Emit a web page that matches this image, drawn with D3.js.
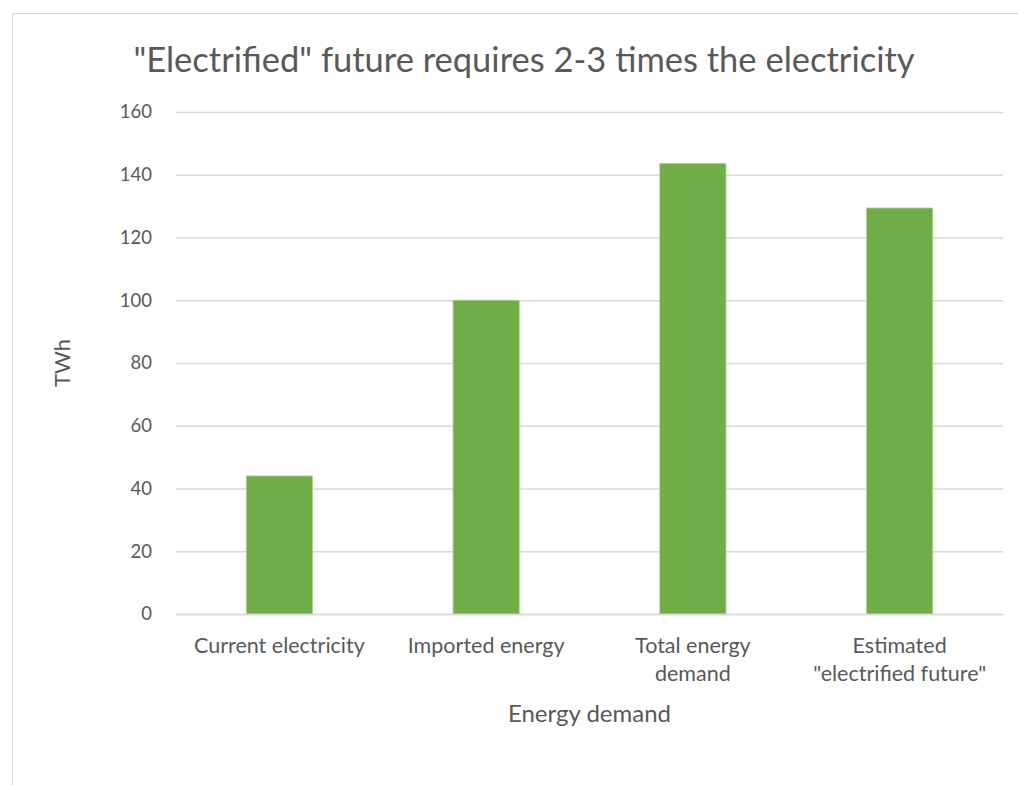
<!DOCTYPE html>
<html>
<head>
<meta charset="utf-8">
<script src="https://cdn.jsdelivr.net/npm/d3@7"></script>
<style>
  html, body { margin: 0; padding: 0; background: #fff; overflow: hidden; }
  svg { display: block; }
  svg text { font-family: Lato, "Open Sans", sans-serif; fill: #595959; }
</style>
</head>
<body>
<svg id="chart"></svg>
<script>
const categories = ['Current electricity', 'Imported energy', 'Total energy\ndemand', 'Estimated\n"electrified future"'];
const values = [44, 100, 143.6, 129.4];
const yTicks = [0, 20, 40, 60, 80, 100, 120, 140, 160];

const width = 1018;
const height = 785;
const margin = { top: 112, right: 15, bottom: 171, left: 176 };
const innerWidth = width - margin.left - margin.right;
const innerHeight = height - margin.top - margin.bottom;

const svg = d3.select('#chart')
  .attr('width', width)
  .attr('height', height);

// chart area border (runs off the right and bottom edges)
svg.append('path')
  .attr('d', `M12.5,${height} V13.5 H${width}`)
  .attr('fill', 'none')
  .attr('stroke', '#d9d9d9');

const g = svg.append('g')
  .attr('transform', `translate(${margin.left}, ${margin.top})`);

const x = d3.scaleBand()
  .domain(categories)
  .range([0, innerWidth])
  .padding(0);
const y = d3.scaleLinear()
  .domain([0, 160])
  .range([innerHeight, 0]);

const barWidth = x.bandwidth() * 0.32;

// gridlines
g.append('g')
  .attr('class', 'grid')
  .call(d3.axisLeft(y).tickValues(yTicks).tickSize(-innerWidth).tickFormat(''))
  .call(s => s.select('.domain').remove())
  .call(s => s.selectAll('text').remove())
  .call(s => s.selectAll('line').attr('stroke', '#d9d9d9').attr('stroke-width', 1.3));

// y labels
g.append('g')
  .attr('class', 'y-labels')
  .selectAll('text')
  .data(yTicks)
  .enter().append('text')
    .attr('x', -24)
    .attr('y', d => y(d))
    .attr('dy', '0.35em')
    .attr('text-anchor', 'end')
    .style('font-size', '18.5px')
    .text(d => d);

// bars
g.selectAll('.bar')
  .data(categories.map((c, i) => ({ c, v: values[i] })))
  .enter().append('rect')
    .attr('class', 'bar')
    .attr('x', d => x(d.c) + (x.bandwidth() - barWidth) / 2)
    .attr('y', d => y(d.v))
    .attr('width', barWidth)
    .attr('height', d => innerHeight - y(d.v))
    .attr('fill', '#70AD47')
    .attr('stroke', '#a9d18e')
    .attr('stroke-width', 0.8);

// x axis
const xAxis = g.append('g')
  .attr('transform', `translate(0, ${innerHeight})`)
  .call(d3.axisBottom(x).tickSize(0).tickFormat(''))
  .call(s => s.selectAll('text').remove())
  .call(s => s.select('.domain').attr('stroke', '#d9d9d9').attr('stroke-width', 1.3));

xAxis.selectAll('.tick').each(function (d) {
  const lines = d.split('\n');
  const t = d3.select(this).append('text')
    .attr('text-anchor', 'middle')
    .style('font-size', '21.5px');
  lines.forEach((line, i) => {
    t.append('tspan')
      .attr('x', 0)
      .attr('y', 39 + i * 28)
      .text(line);
  });
});

// title
svg.append('text')
  .attr('x', 524)
  .attr('y', 72)
  .attr('text-anchor', 'middle')
  .style('font-size', '34.5px')
  .text('"Electrified" future requires 2-3 times the electricity');

// axis titles
svg.append('text')
  .attr('x', margin.left + innerWidth / 2)
  .attr('y', 722)
  .attr('text-anchor', 'middle')
  .style('font-size', '24px')
  .text('Energy demand');

svg.append('text')
  .attr('transform', `translate(70, ${margin.top + innerHeight / 2}) rotate(-90)`)
  .attr('text-anchor', 'middle')
  .style('font-size', '22px')
  .text('TWh');
</script>
</body>
</html>
